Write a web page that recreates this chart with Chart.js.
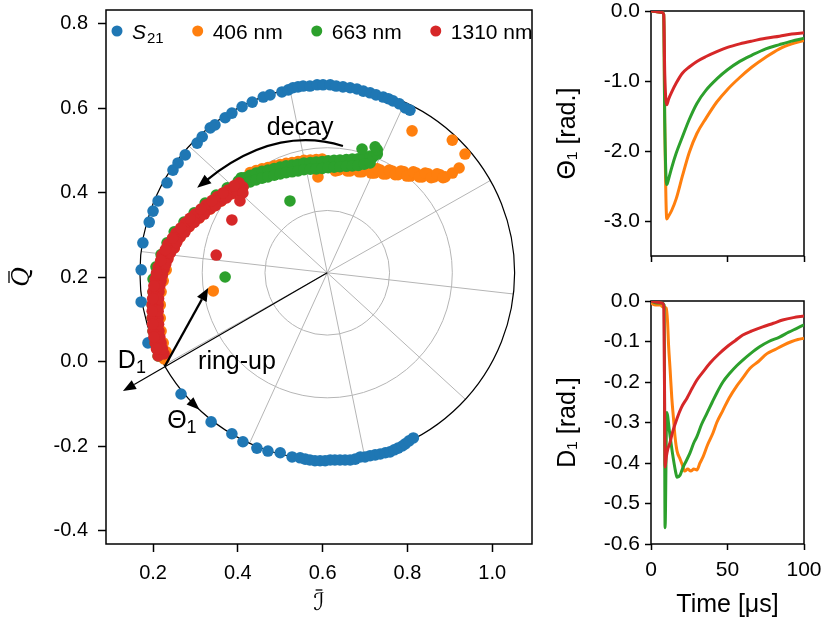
<!DOCTYPE html>
<html>
<head>
<meta charset="utf-8">
<script src="https://cdn.jsdelivr.net/npm/chart.js@4"></script>
<style>
  body { margin: 0; background: #fff; width: 823px; height: 624px; position: relative; overflow: hidden; }
  canvas { position: absolute; }
  #main { left: 0; top: 0; }
  #theta { left: 545px; top: 0; }
  #diss { left: 545px; top: 280px; }
</style>
</head>
<body>
<canvas id="main" width="545" height="624"></canvas>
<canvas id="theta" width="278" height="270"></canvas>
<canvas id="diss" width="278" height="344"></canvas>
<script>
// ---- data ----
const seriesNames = ["S21", "406 nm", "663 nm", "1310 nm"];

const s21X = [0.212,0.233,0.247,0.259,0.276,0.304,0.316,0.335,0.346,0.370,0.386,0.410,0.434,0.460,0.476,0.504,0.519,0.530,0.542,0.554,0.570,0.587,0.601,0.618,0.632,0.648,0.665,0.681,0.696,0.712,0.726,0.743,0.755,0.766,0.781,0.795,0.806,
  0.200,0.191,0.176,0.172,0.172,0.188,
  0.266,0.337,0.386,0.412,0.445,0.471,0.500,0.528,0.547,0.559,0.570,0.582,0.594,0.606,0.618,0.629,0.641,0.653,0.665,0.677,0.689,0.700,0.712,0.724,0.736,0.748,0.759,0.769,0.778,0.788,0.795,0.804,0.814];
const s21Y = [0.381,0.424,0.454,0.471,0.490,0.518,0.533,0.554,0.561,0.578,0.589,0.604,0.615,0.627,0.632,0.639,0.644,0.649,0.651,0.653,0.653,0.656,0.656,0.656,0.653,0.651,0.649,0.646,0.641,0.637,0.632,0.627,0.623,0.618,0.611,0.601,0.596,
  0.357,0.331,0.282,0.218,0.142,0.045,
  -0.076,-0.142,-0.170,-0.189,-0.204,-0.211,-0.215,-0.225,-0.227,-0.230,-0.232,-0.234,-0.234,-0.234,-0.232,-0.232,-0.232,-0.232,-0.232,-0.230,-0.225,-0.225,-0.222,-0.220,-0.218,-0.215,-0.213,-0.208,-0.204,-0.199,-0.194,-0.187,-0.180];

const orangeX = [0.226,0.231,0.224,0.219,0.217,0.217,0.219,0.224,0.231,0.235,0.250,0.264,0.285,0.309,0.335,0.361,0.386,0.412,0.420,
  0.429,0.443,0.457,0.471,0.486,0.500,0.514,0.528,0.542,0.556,0.571,0.585,0.599,
  0.622,0.637,0.651,0.665,0.679,0.693,0.707,0.722,0.736,0.750,0.764,0.778,0.792,0.807,0.821,0.835,0.849,0.863,0.877,0.889,0.906,0.922,0.936,0.906,0.811,
  0.630,0.644,0.658,0.672,0.686,0.700,0.715,0.729,0.743,0.757,0.771,0.785,0.799,0.814,0.828,0.842,0.856,0.870,0.884,
  0.589,0.342];
const orangeY = [0.007,0.024,0.045,0.073,0.104,0.135,0.166,0.192,0.218,0.246,0.270,0.296,0.320,0.341,0.362,0.381,0.398,0.414,0.430,
  0.448,0.453,0.457,0.460,0.464,0.467,0.470,0.472,0.474,0.477,0.478,0.479,0.480,
  0.462,0.454,0.462,0.452,0.459,0.450,0.457,0.447,0.454,0.445,0.452,0.443,0.450,0.440,0.447,0.438,0.445,0.438,0.443,0.438,0.447,0.459,0.492,0.525,0.547,
  0.452,0.464,0.452,0.462,0.450,0.459,0.447,0.457,0.445,0.454,0.443,0.452,0.440,0.450,0.438,0.447,0.436,0.445,0.436,
  0.438,0.168];

const greenX = [0.212,0.205,0.200,0.198,0.198,0.200,0.200,0.207,0.219,0.233,0.250,0.273,0.297,0.323,0.349,0.375,0.401,0.408,
  0.415,0.429,0.443,0.457,0.471,0.486,0.500,0.514,0.528,0.542,0.556,0.571,0.585,0.599,0.613,0.627,0.641,0.656,0.670,0.684,0.698,0.712,
  0.415,0.429,0.443,0.457,0.471,0.486,0.500,0.514,0.528,0.542,0.556,0.571,0.585,0.599,0.613,0.627,0.641,0.656,0.670,0.684,0.698,0.712,
  0.415,0.429,0.443,0.457,0.471,0.486,0.500,0.514,0.528,0.542,0.556,0.571,0.585,0.599,0.613,0.627,0.641,0.656,0.670,0.684,0.698,0.712,
  0.719,0.729,0.729,0.724,0.693,
  0.523,0.370];
const greenY = [0.014,0.045,0.073,0.104,0.135,0.166,0.196,0.225,0.254,0.282,0.308,0.331,0.353,0.376,0.395,0.412,0.428,0.436,
  0.428,0.434,0.439,0.443,0.446,0.450,0.453,0.456,0.458,0.460,0.463,0.464,0.465,0.466,0.468,0.469,0.470,0.471,0.472,0.473,0.476,0.479,
  0.436,0.442,0.447,0.451,0.454,0.458,0.461,0.464,0.466,0.468,0.471,0.472,0.473,0.474,0.476,0.477,0.478,0.479,0.480,0.481,0.484,0.487,
  0.420,0.426,0.431,0.435,0.438,0.442,0.445,0.448,0.450,0.452,0.455,0.456,0.457,0.458,0.460,0.461,0.462,0.463,0.464,0.465,0.468,0.471,
  0.485,0.492,0.502,0.509,0.504,
  0.381,0.201];

const redX = [0.226,0.212,0.215,0.219,0.205,0.209,0.214,0.200,0.206,0.212,0.198,0.205,0.212,0.198,0.206,0.214,0.200,0.209,0.219,0.205,0.215,0.226,0.212,0.224,0.235,0.221,0.235,0.250,0.235,0.251,0.264,0.254,0.270,0.285,0.276,0.292,0.309,0.299,0.317,0.335,0.325,0.343,0.361,0.351,0.369,0.386,0.377,0.395,0.412,0.403,
  0.222,0.208,0.216,0.202,0.213,0.199,0.212,0.198,0.213,0.199,0.216,0.202,0.222,0.208,0.230,0.218,0.241,0.229,0.256,0.246,0.275,0.265,0.297,0.287,0.321,0.313,0.347,0.339,0.373,0.365,0.399,0.391,
  0.412,0.405,0.386,0.349];
const redY = [0.019,0.014,0.031,0.045,0.045,0.059,0.073,0.073,0.089,0.104,0.104,0.120,0.135,0.135,0.150,0.166,0.166,0.180,0.192,0.196,0.208,0.220,0.225,0.236,0.244,0.253,0.262,0.270,0.279,0.288,0.296,0.305,0.312,0.320,0.329,0.335,0.341,0.350,0.356,0.362,0.372,0.376,0.381,0.391,0.394,0.398,0.407,0.411,0.414,0.424,
  0.031,0.031,0.059,0.059,0.089,0.089,0.120,0.120,0.150,0.150,0.180,0.180,0.206,0.210,0.232,0.240,0.258,0.266,0.283,0.293,0.307,0.317,0.330,0.340,0.350,0.362,0.370,0.382,0.388,0.400,0.405,0.417,
  0.400,0.381,0.336,0.253];

// polar guide + fitted circle
const polarCenter = [0.611, 0.211];
const gridRadii = [0.147, 0.295];
const fitRadius = 0.442;
const spokeAngles = [-6.5, 29.5, 65.5, 101.5, 137.5, 173.5, 209.5, 245.5, 281.5, 317.5];
const thetaArc = [209.6, 227];
const d1Tip = [0.129, -0.069];
const ringUp = [[0.228, -0.010], [0.330, 0.175]];
const decayArc = [[0.648, 0.511], [0.488, 0.561], [0.304, 0.412]];
const notes = [
  { text: "decay", x: 0.547, y: 0.559 },
  { text: "ring-up", x: 0.398, y: 0.005 },
  { text: "D", sub: "1", x: 0.150, y: 0.007 },
  { text: "Θ", sub: "1", x: 0.268, y: -0.135 }
];

const jTicks = [0.2, 0.4, 0.6, 0.8, 1.0];
const qTicks = [-0.4, -0.2, 0.0, 0.2, 0.4, 0.6, 0.8];
const axisNames = ["ℐ", "Q"];

// time traces
const timeTicks = [0, 50, 100];
const thetaTicks = [-3, -2, -1, 0];
const dTicks = [-0.6, -0.5, -0.4, -0.3, -0.2, -0.1, 0];

const thetaTime = [0, 4, 7, 8.3, 9, 10.3, 11.5, 13.5, 16.5, 20.5, 25, 30, 36, 43, 50, 58, 66, 75, 84, 92, 100];
const thetaOrange = [0, -0.01, -0.02, -0.05, -1.6, -2.97, -2.93, -2.85, -2.68, -2.36, -2.02, -1.75, -1.53, -1.30, -1.12, -0.95, -0.80, -0.66, -0.54, -0.47, -0.42];
const thetaGreen = [0, -0.01, -0.02, -0.05, -1.6, -2.48, -2.40, -2.24, -2.03, -1.80, -1.55, -1.32, -1.13, -0.97, -0.84, -0.72, -0.63, -0.54, -0.48, -0.43, -0.39];
const thetaRed = [0, -0.01, -0.02, -0.05, -0.9, -1.34, -1.26, -1.16, -1.03, -0.89, -0.80, -0.72, -0.65, -0.58, -0.52, -0.47, -0.43, -0.39, -0.36, -0.33, -0.31];

const dTimeOrange = [0, 3, 6, 8, 10, 10.8, 11.5, 12.5, 13.6, 14.7, 15.7, 17, 19, 20.5, 22, 24, 26, 28, 30, 32, 34, 37, 40.5, 43, 47, 51, 56, 60, 64.7, 70, 75.8, 81, 86, 92, 96, 100];
const dOrange = [-0.005, -0.01, -0.01, -0.015, -0.018, -0.05, -0.11, -0.17, -0.24, -0.29, -0.335, -0.37, -0.39, -0.405, -0.42, -0.415, -0.42, -0.415, -0.417, -0.40, -0.385, -0.355, -0.326, -0.30, -0.27, -0.24, -0.21, -0.19, -0.166, -0.15, -0.13, -0.12, -0.11, -0.10, -0.095, -0.092];
const dTimeGreen = [0, 4, 7, 8.6, 9.2, 10.3, 12, 14, 16, 17, 19, 21, 23, 25.5, 28, 30, 33, 36.6, 40, 43, 47, 51.6, 56, 60, 65, 71, 77, 84, 90, 95, 100];
const dGreen = [0, -0.005, -0.005, -0.01, -0.56, -0.275, -0.32, -0.375, -0.42, -0.435, -0.43, -0.41, -0.395, -0.375, -0.35, -0.335, -0.305, -0.277, -0.25, -0.227, -0.20, -0.178, -0.16, -0.146, -0.13, -0.113, -0.10, -0.089, -0.077, -0.068, -0.059];
const dTimeRed = [0, 4, 7, 8.3, 8.8, 9.2, 10, 11, 12.4, 14, 17, 20, 23.5, 27, 30, 34, 38.6, 44, 49.7, 55, 60, 66, 73, 80, 86, 93, 100];
const dRed = [0, -0.003, -0.005, -0.01, -0.2, -0.41, -0.385, -0.365, -0.35, -0.325, -0.29, -0.262, -0.24, -0.215, -0.195, -0.175, -0.153, -0.132, -0.113, -0.098, -0.084, -0.074, -0.064, -0.055, -0.047, -0.041, -0.037];

// ---- setup ----
const FONT = '"Liberation Sans", Arial, Helvetica, sans-serif';
Chart.defaults.font.family = FONT;
Chart.defaults.color = "#000";
Chart.defaults.animation = false;

const colors = { blue: "#1f77b4", orange: "#ff7f0e", green: "#2ca02c", red: "#d62728" };

function pts(xs, ys) {
  return xs.map((x, i) => ({ x: x, y: ys[i] }));
}

function fixedTicks(values) {
  return (scale) => { scale.ticks = values.map((v) => ({ value: v })); };
}

const tickGrid = (len) => ({
  drawOnChartArea: false, drawTicks: true, tickLength: len, tickColor: "#000", tickWidth: 1.5
});

// black box around every plot area
const frame = {
  id: "frame",
  beforeDatasetsDraw(chart) {
    const { ctx, chartArea: a } = chart;
    ctx.save();
    ctx.strokeStyle = "#000";
    ctx.lineWidth = 1.5;
    ctx.strokeRect(a.left, a.top, a.right - a.left, a.bottom - a.top);
    ctx.restore();
  }
};

function drawRich(ctx, text, sub, x, y, size, italic) {
  const base = y + size * 0.36;
  ctx.textAlign = "left";
  ctx.textBaseline = "alphabetic";
  ctx.font = (italic ? "italic " : "") + size + "px " + FONT;
  ctx.fillText(text, x, base);
  let w = ctx.measureText(text).width;
  if (sub) {
    ctx.font = Math.round(size * 0.7) + "px " + FONT;
    ctx.fillText(sub, x + w + (italic ? 1 : 0), base + size * 0.22);
    w += ctx.measureText(sub).width + (italic ? 1 : 0);
  }
  return w;
}

function richWidth(ctx, text, sub, size, italic) {
  ctx.font = (italic ? "italic " : "") + size + "px " + FONT;
  let w = ctx.measureText(text).width;
  if (sub) {
    ctx.font = Math.round(size * 0.7) + "px " + FONT;
    w += ctx.measureText(sub).width + (italic ? 1 : 0);
  }
  return w;
}

// letter with a bar over it, centred on (x, y); rotated for the vertical axis
function barred(ctx, letter, font, x, y, rot) {
  ctx.save();
  ctx.translate(x, y);
  ctx.rotate(rot);
  ctx.font = font;
  ctx.textAlign = "center";
  ctx.textBaseline = "middle";
  ctx.fillText(letter, 0, 0);
  const w = ctx.measureText(letter).width;
  ctx.lineWidth = 1.3;
  ctx.beginPath();
  ctx.moveTo(-w * 0.3, -14);
  ctx.lineTo(w * 0.3, -14);
  ctx.stroke();
  ctx.restore();
}

function head(ctx, x, y, a, hl, hw) {
  const c = Math.cos(a), s = Math.sin(a);
  ctx.beginPath();
  ctx.moveTo(x, y);
  ctx.lineTo(x - hl * c + hw * s, y - hl * s - hw * c);
  ctx.lineTo(x - hl * c - hw * s, y - hl * s + hw * c);
  ctx.closePath();
  ctx.fill();
}

function arrow(ctx, x0, y0, x1, y1, lw, hl, hw) {
  const a = Math.atan2(y1 - y0, x1 - x0);
  ctx.lineWidth = lw;
  ctx.beginPath();
  ctx.moveTo(x0, y0);
  ctx.lineTo(x1 - hl * Math.cos(a), y1 - hl * Math.sin(a));
  ctx.stroke();
  head(ctx, x1, y1, a, hl, hw);
}

const decor = {
  id: "decor",
  beforeDatasetsDraw(chart) {
    const { ctx, scales: { x, y } } = chart;
    const cx = x.getPixelForValue(polarCenter[0]);
    const cy = y.getPixelForValue(polarCenter[1]);
    const pr = (r) => x.getPixelForValue(polarCenter[0] + r) - cx;
    const R = pr(fitRadius);
    ctx.save();
    ctx.strokeStyle = "#b5b5b5";
    ctx.lineWidth = 1;
    gridRadii.forEach((r) => {
      ctx.beginPath();
      ctx.arc(cx, cy, pr(r), 0, Math.PI * 2);
      ctx.stroke();
    });
    spokeAngles.forEach((deg) => {
      const t = deg * Math.PI / 180;
      ctx.beginPath();
      ctx.moveTo(cx, cy);
      ctx.lineTo(cx + R * Math.cos(t), cy - R * Math.sin(t));
      ctx.stroke();
    });
    ctx.strokeStyle = "#000";
    ctx.lineWidth = 1.2;
    ctx.beginPath();
    ctx.arc(cx, cy, R, 0, Math.PI * 2);
    ctx.stroke();
    ctx.restore();
  },
  afterDatasetsDraw(chart) {
    const { ctx, chartArea: area, scales: { x, y } } = chart;
    const px = (v) => x.getPixelForValue(v);
    const py = (v) => y.getPixelForValue(v);
    const cx = px(polarCenter[0]), cy = py(polarCenter[1]);
    const R = px(polarCenter[0] + fitRadius) - cx;
    ctx.save();
    ctx.strokeStyle = "#000";
    ctx.fillStyle = "#000";

    // D1 direction (from centre)
    arrow(ctx, cx, cy, px(d1Tip[0]), py(d1Tip[1]), 1.2, 13, 5);
    // ring-up
    arrow(ctx, px(ringUp[0][0]), py(ringUp[0][1]), px(ringUp[1][0]), py(ringUp[1][1]), 2.2, 13, 5.5);
    // Theta1 head on the fitted circle
    const t1 = thetaArc[1] * Math.PI / 180;
    head(ctx, cx + R * Math.cos(t1), cy - R * Math.sin(t1), Math.atan2(-Math.cos(t1), -Math.sin(t1)), 13, 5);
    // decay (curved)
    const p0 = [px(decayArc[0][0]), py(decayArc[0][1])];
    const pc = [px(decayArc[1][0]), py(decayArc[1][1])];
    const p2 = [px(decayArc[2][0]), py(decayArc[2][1])];
    const a = Math.atan2(p2[1] - pc[1], p2[0] - pc[0]);
    ctx.lineWidth = 2.2;
    ctx.beginPath();
    ctx.moveTo(p0[0], p0[1]);
    ctx.quadraticCurveTo(pc[0], pc[1], p2[0] - 12 * Math.cos(a), p2[1] - 12 * Math.sin(a));
    ctx.stroke();
    head(ctx, p2[0], p2[1], a, 14, 5.5);

    // text notes
    notes.forEach((n) => {
      const w = richWidth(ctx, n.text, n.sub, 25, false);
      drawRich(ctx, n.text, n.sub, px(n.x) - w / 2, py(n.y), 25, false);
    });

    // legend
    const legendColors = [colors.blue, colors.orange, colors.green, colors.red];
    let lx = area.left + 11;
    const ly = area.top + 21;
    seriesNames.forEach((name, i) => {
      ctx.fillStyle = legendColors[i];
      ctx.beginPath();
      ctx.arc(lx, ly, 5.5, 0, Math.PI * 2);
      ctx.fill();
      ctx.fillStyle = "#000";
      let w;
      if (name === "S21") w = drawRich(ctx, "S", "21", lx + 15, ly, 21, true);
      else w = drawRich(ctx, name, null, lx + 15, ly, 21, false);
      lx += 15 + w + 34;
    });

    // axis names with overbars
    ctx.fillStyle = "#000";
    barred(ctx, axisNames[0], '24px "DejaVu Sans", sans-serif', (area.left + area.right) / 2, 604, 0);
    barred(ctx, axisNames[1], 'italic 24px "DejaVu Serif", serif', 23, (area.top + area.bottom) / 2, -Math.PI / 2);
    ctx.restore();
  }
};

const scatterSet = (label, xs, ys, color, order) => ({
  label: label, data: pts(xs, ys), order: order,
  backgroundColor: color, borderColor: color, borderWidth: 0,
  pointRadius: 5.8, pointBorderWidth: 0, pointHoverRadius: 5.8
});

new Chart(document.getElementById("main"), {
  type: "scatter",
  data: {
    datasets: [
      scatterSet(seriesNames[0], s21X, s21Y, colors.blue, 3),
      scatterSet(seriesNames[1], orangeX, orangeY, colors.orange, 2),
      scatterSet(seriesNames[2], greenX, greenY, colors.green, 1),
      scatterSet(seriesNames[3], redX, redY, colors.red, 0)
    ]
  },
  options: {
    responsive: false,
    animation: false,
    clip: false,
    layout: { padding: { top: 10, right: 13, left: 0, bottom: 0 } },
    plugins: { legend: { display: false }, tooltip: { enabled: false } },
    scales: {
      x: {
        type: "linear", min: 0.089, max: 1.094,
        afterBuildTicks: fixedTicks(jTicks),
        afterFit: (s) => { s.height = 80; s.paddingLeft = 0; s.paddingRight = 0; },
        grid: tickGrid(8),
        border: { display: false },
        ticks: { font: { size: 20 }, padding: 9, autoSkip: false, maxRotation: 0, callback: (v) => v.toFixed(1) }
      },
      y: {
        type: "linear", min: -0.431, max: 0.833,
        afterBuildTicks: fixedTicks(qTicks),
        afterFit: (s) => { s.width = 106; s.paddingTop = 0; s.paddingBottom = 0; },
        grid: tickGrid(8),
        border: { display: false },
        ticks: { font: { size: 20 }, padding: 10, autoSkip: false, callback: (v) => v.toFixed(1) }
      }
    }
  },
  plugins: [frame, decor]
});

const lineSet = (xs, ys, color, order) => ({
  data: pts(xs, ys), order: order, borderColor: color, backgroundColor: color,
  borderWidth: 3, pointRadius: 0, cubicInterpolationMode: "monotone", fill: false
});

const sideOptions = (yMin, yMax, yTickVals, yTitle, showX) => ({
  responsive: false,
  animation: false,
  layout: { padding: { top: showX ? 21 : 11, right: 19, left: 0, bottom: 0 } },
  plugins: { legend: { display: false }, tooltip: { enabled: false } },
  scales: {
    x: {
      type: "linear", min: 0, max: 100,
      afterBuildTicks: fixedTicks(timeTicks),
      afterFit: (s) => { s.height = showX ? 80 : 14; s.paddingLeft = 0; s.paddingRight = 0; },
      grid: tickGrid(6),
      border: { display: false },
      ticks: { display: showX, font: { size: 21 }, padding: 8, autoSkip: false, maxRotation: 0 },
      title: { display: showX, text: "Time [μs]", font: { size: 25 }, padding: { bottom: 4, top: 0 } }
    },
    y: {
      type: "linear", min: yMin, max: yMax,
      afterBuildTicks: fixedTicks(yTickVals),
      afterFit: (s) => { s.width = 106; s.paddingTop = 0; s.paddingBottom = 0; },
      grid: tickGrid(6),
      border: { display: false },
      ticks: { font: { size: 21 }, padding: 5, autoSkip: false, callback: (v) => v.toFixed(1) },
      title: { display: true, text: yTitle, font: { size: 25 }, padding: { top: 8, bottom: 0 } }
    }
  }
});

new Chart(document.getElementById("theta"), {
  type: "line",
  data: {
    datasets: [
      lineSet(thetaTime, thetaOrange, colors.orange, 2),
      lineSet(thetaTime, thetaGreen, colors.green, 1),
      lineSet(thetaTime, thetaRed, colors.red, 0)
    ]
  },
  options: sideOptions(-3.5, 0, thetaTicks, "Θ₁ [rad.]", false),
  plugins: [frame]
});

new Chart(document.getElementById("diss"), {
  type: "line",
  data: {
    datasets: [
      lineSet(dTimeOrange, dOrange, colors.orange, 2),
      lineSet(dTimeGreen, dGreen, colors.green, 1),
      lineSet(dTimeRed, dRed, colors.red, 0)
    ]
  },
  options: sideOptions(-0.6, 0, dTicks, "D₁ [rad.]", true),
  plugins: [frame]
});
</script>
</body>
</html>
